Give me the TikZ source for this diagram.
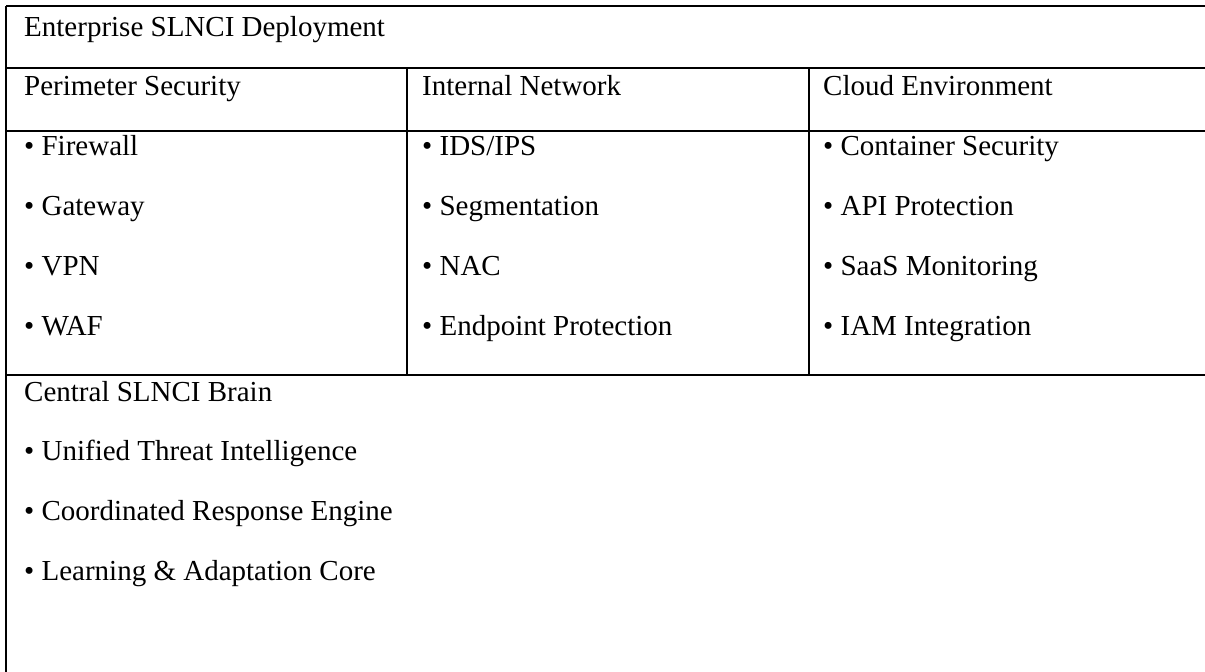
\documentclass[tikz,border=0pt]{standalone}
\usepackage{fontspec}
\setmainfont{Liberation Serif}
\usepackage{tikz}
\tikzstyle{cell} = [anchor=base west, inner sep=0pt, font=\fontsize{29}{33}\selectfont]
\tikzstyle{rule} = [line width=2pt, black]
\begin{document}
\begin{tikzpicture}[x=1pt, y=-1pt]
    \useasboundingbox (0,0) rectangle (1205,672);

    % table rules
    \draw [rule] (6,6) -- (1205,6);
    \draw [rule] (6,6) -- (6,672);
    \draw [rule] (6,68) -- (1205,68);
    \draw [rule] (6,131) -- (1205,131);
    \draw [rule] (407,68) -- (407,375);
    \draw [rule] (809,68) -- (809,375);
    \draw [rule] (6,375) -- (1205,375);

    \node (title) [cell] at (24,36) {Enterprise SLNCI Deployment};

    \node (perimeter) [cell] at (24,95) {Perimeter Security};
    \node (internal) [cell] at (422,95) {Internal Network};
    \node (cloud) [cell] at (823,95) {Cloud Environment};

    \node (firewall) [cell] at (24,155) {• Firewall};
    \node (gateway) [cell] at (24,215) {• Gateway};
    \node (vpn) [cell] at (24,275) {• VPN};
    \node (waf) [cell] at (24,335) {• WAF};

    \node (ids) [cell] at (422,155) {• IDS/IPS};
    \node (segment) [cell] at (422,215) {• Segmentation};
    \node (nac) [cell] at (422,275) {• NAC};
    \node (endpoint) [cell] at (422,335) {• Endpoint Protection};

    \node (container) [cell] at (823,155) {• Container Security};
    \node (api) [cell] at (823,215) {• API Protection};
    \node (saas) [cell] at (823,275) {• SaaS Monitoring};
    \node (iam) [cell] at (823,335) {• IAM Integration};

    \node (brain) [cell] at (24,401) {Central SLNCI Brain};
    \node (threat) [cell] at (24,460) {• Unified Threat Intelligence};
    \node (response) [cell] at (24,520) {• Coordinated Response Engine};
    \node (learning) [cell] at (24,580) {• Learning \& Adaptation Core};
\end{tikzpicture}
\end{document}
